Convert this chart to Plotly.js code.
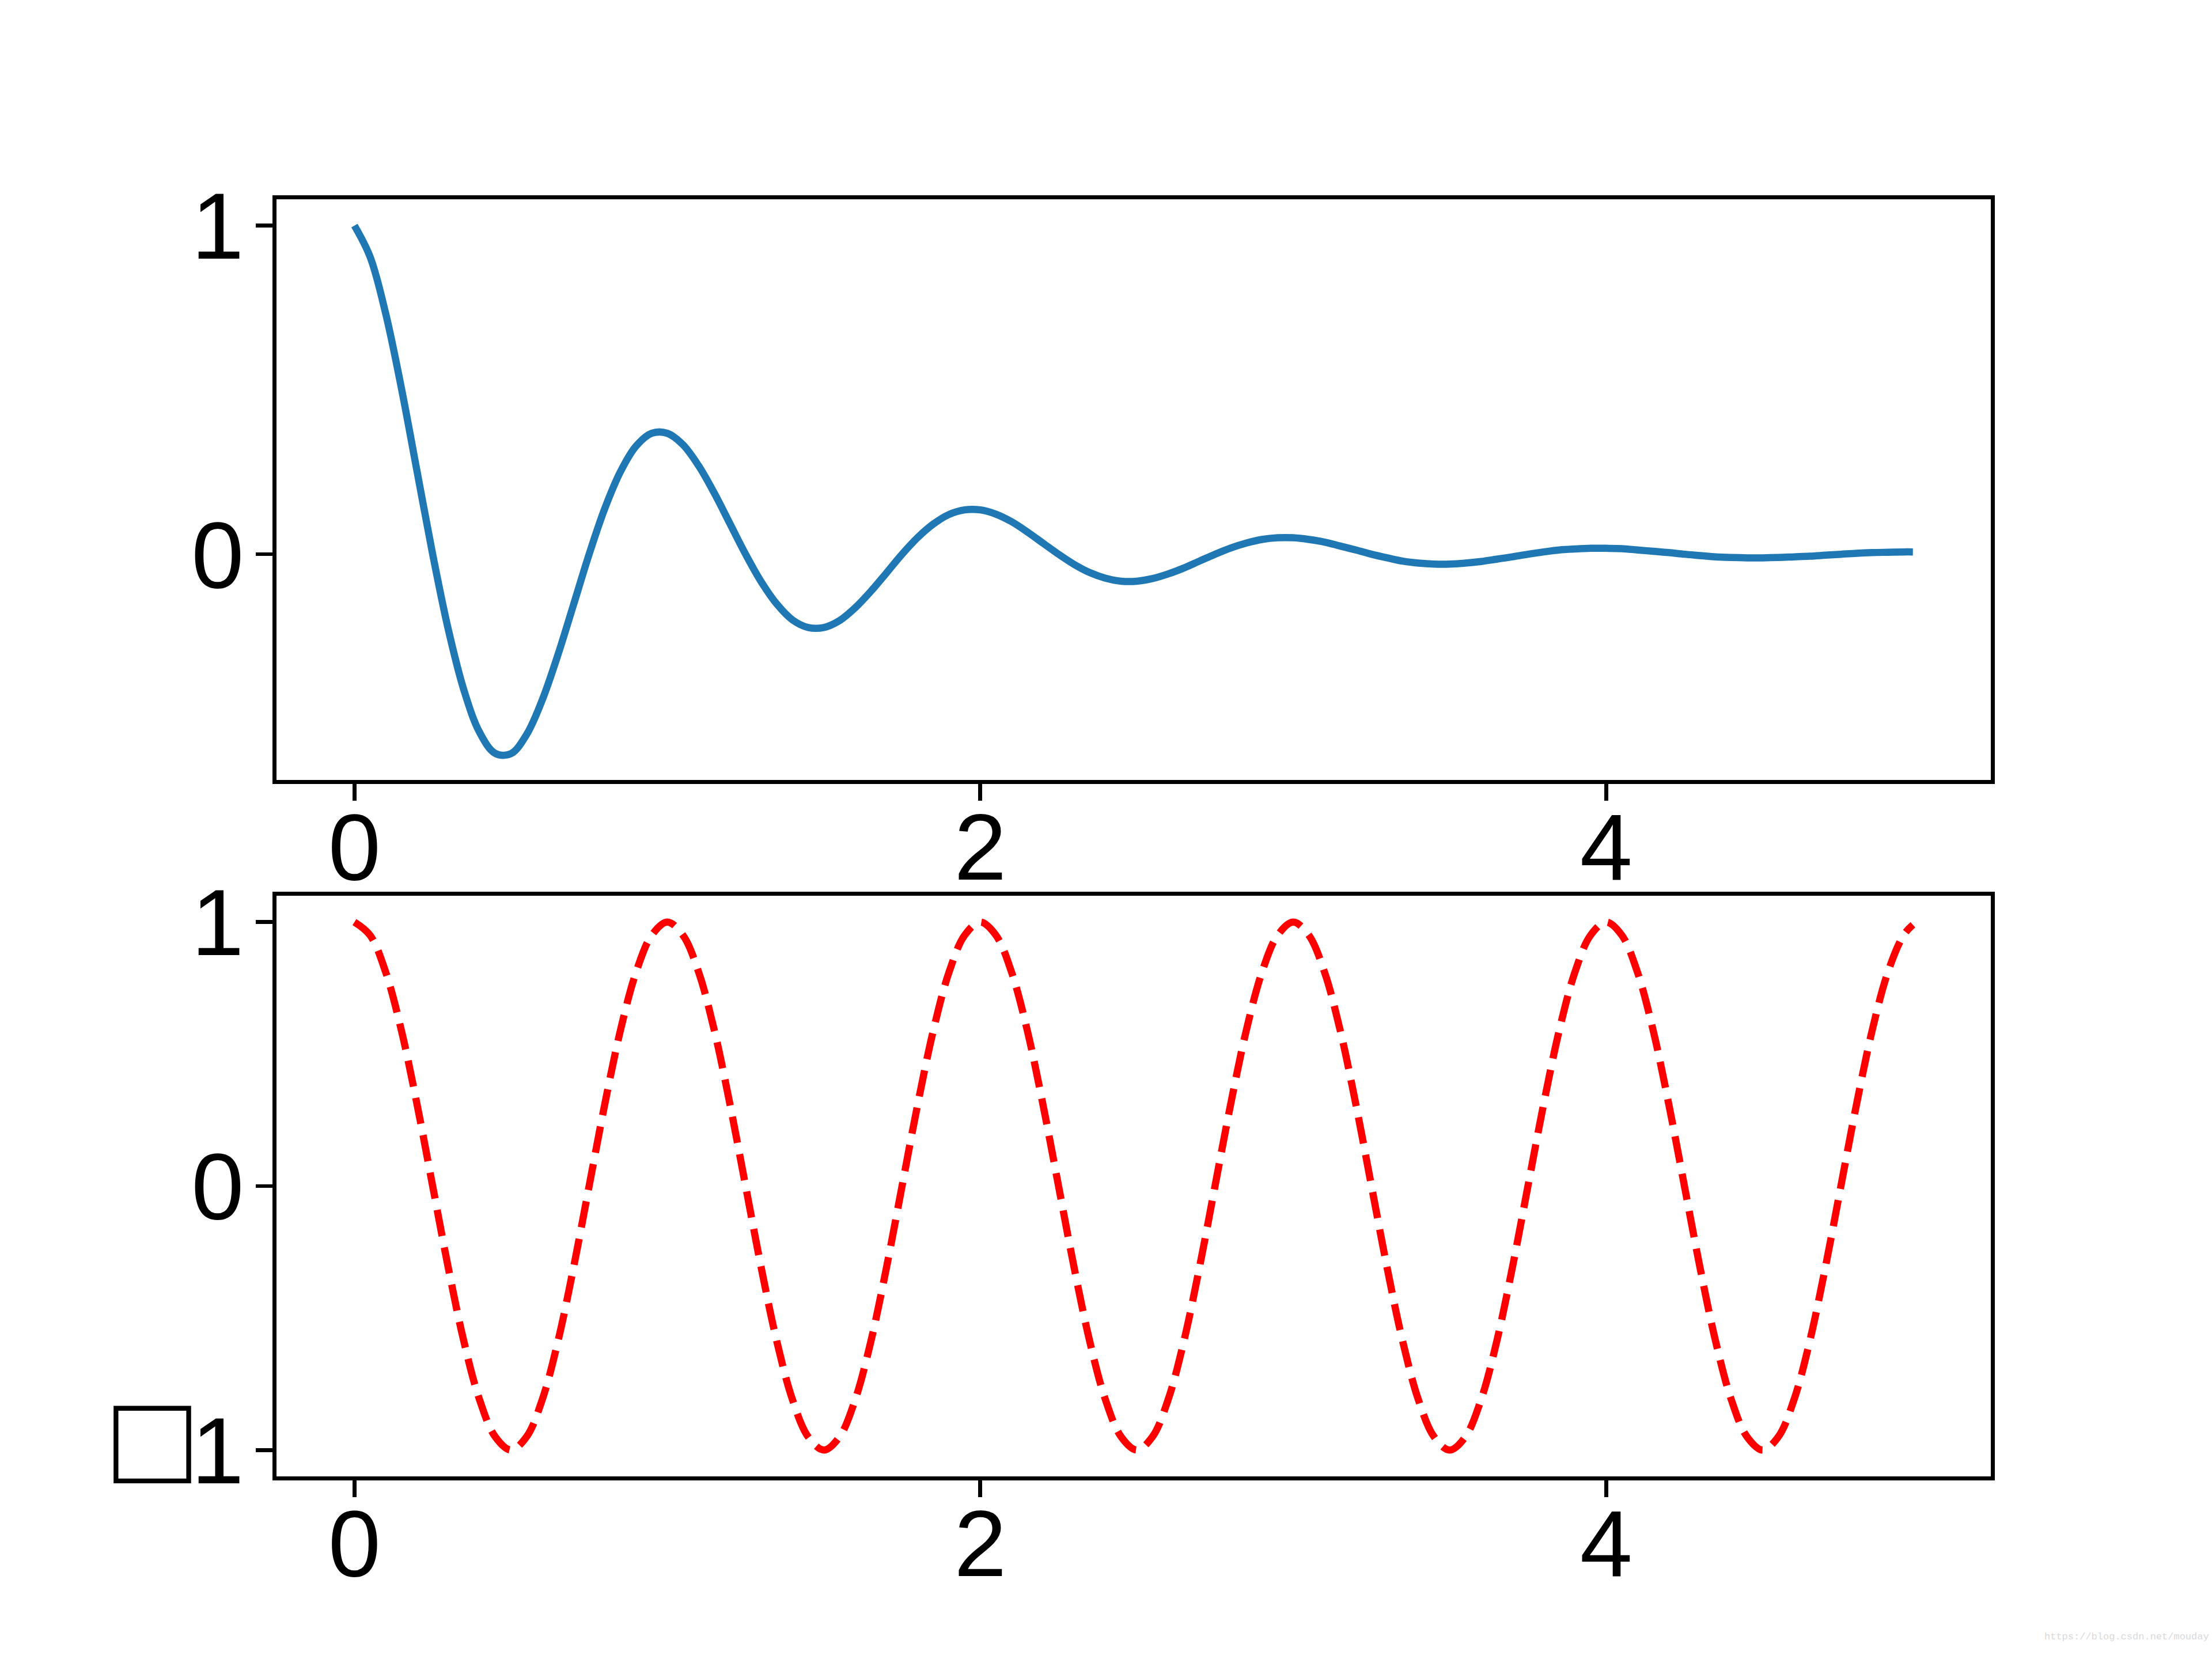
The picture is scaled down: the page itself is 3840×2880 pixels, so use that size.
<!DOCTYPE html>
<html>
<head>
<meta charset="utf-8">
<script src="https://cdn.plot.ly/plotly-3.0.1.min.js"></script>
<style>html,body{margin:0;padding:0;background:#fff;}</style>
</head>
<body>
<div id="chart" style="width:3840px;height:2880px;"></div>
<script>
// time samples (step 0.05 plus last sample)
const t = [0,0.05,0.1,0.15,0.2,0.25,0.3,0.35,0.4,0.45,0.5,0.55,0.6,0.65,0.7,0.75,0.8,0.85,0.9,0.95,
1,1.05,1.1,1.15,1.2,1.25,1.3,1.35,1.4,1.45,1.5,1.55,1.6,1.65,1.7,1.75,1.8,1.85,1.9,1.95,
2,2.05,2.1,2.15,2.2,2.25,2.3,2.35,2.4,2.45,2.5,2.55,2.6,2.65,2.7,2.75,2.8,2.85,2.9,2.95,
3,3.05,3.1,3.15,3.2,3.25,3.3,3.35,3.4,3.45,3.5,3.55,3.6,3.65,3.7,3.75,3.8,3.85,3.9,3.95,
4,4.05,4.1,4.15,4.2,4.25,4.3,4.35,4.4,4.45,4.5,4.55,4.6,4.65,4.7,4.75,4.8,4.85,4.9,4.95,4.98];

// top panel: damped oscillation (blue)
const dampedValues = [1.000,0.905,0.732,0.506,0.253,0.000,-0.229,-0.414,-0.542,-0.606,-0.607,-0.549,-0.444,-0.307,-0.154,0.000,0.139,0.251,0.329,0.368,
0.368,0.333,0.269,0.186,0.093,0.000,-0.084,-0.152,-0.200,-0.223,-0.223,-0.202,-0.163,-0.113,-0.057,0.000,0.051,0.092,0.121,0.135,
0.135,0.122,0.099,0.068,0.034,0.000,-0.031,-0.056,-0.073,-0.082,-0.082,-0.074,-0.060,-0.042,-0.021,0.000,0.019,0.034,0.045,0.050,
0.050,0.045,0.037,0.025,0.013,0.000,-0.011,-0.021,-0.027,-0.030,-0.030,-0.027,-0.022,-0.015,-0.008,0.000,0.007,0.013,0.016,0.018,
0.018,0.017,0.013,0.009,0.005,0.000,-0.004,-0.008,-0.010,-0.011,-0.011,-0.010,-0.008,-0.006,-0.003,0.000,0.003,0.005,0.006,0.007,0.007];

// bottom panel: undamped oscillation (red dashed)
const cosValues = [1,0.95,0.81,0.59,0.31,0,-0.31,-0.59,-0.81,-0.95,-1,-0.95,-0.81,-0.59,-0.31,0,0.31,0.59,0.81,0.95,
1,0.95,0.81,0.59,0.31,0,-0.31,-0.59,-0.81,-0.95,-1,-0.95,-0.81,-0.59,-0.31,0,0.31,0.59,0.81,0.95,
1,0.95,0.81,0.59,0.31,0,-0.31,-0.59,-0.81,-0.95,-1,-0.95,-0.81,-0.59,-0.31,0,0.31,0.59,0.81,0.95,
1,0.95,0.81,0.59,0.31,0,-0.31,-0.59,-0.81,-0.95,-1,-0.95,-0.81,-0.59,-0.31,0,0.31,0.59,0.81,0.95,
1,0.95,0.81,0.59,0.31,0,-0.31,-0.59,-0.81,-0.95,-1,-0.95,-0.81,-0.59,-0.31,0,0.31,0.59,0.81,0.95,0.99];

const xTickVals = [0,2,4];
const xTickText = ['0','2','4'];
const topYTickVals = [0,1];
const topYTickText = ['0','1'];
const bottomYTickVals = [-1,0,1];
const bottomYTickText = ['<span style="font-size:225px">\u25A1</span>1','0','1'];
const watermark = 'https://blog.csdn.net/mouday';

const FONT = 'Liberation Sans, Arial, DejaVu Sans, sans-serif';
const tickFont = {family: FONT, size: 164, color: '#000'};

const traces = [
  {x: t, y: dampedValues, xaxis: 'x', yaxis: 'y', type: 'scatter', mode: 'lines',
   line: {color: '#1f77b4', width: 12.5, shape: 'spline', smoothing: 1}, hoverinfo: 'skip'},
  {x: t, y: cosValues, xaxis: 'x2', yaxis: 'y2', type: 'scatter', mode: 'lines',
   line: {color: '#ff0000', width: 12.5, dash: '46px,20px', shape: 'spline', smoothing: 1}, hoverinfo: 'skip'}
];

function axisCommon() {
  return {
    showline: true, mirror: true, linecolor: '#000', linewidth: 6.7,
    showgrid: false, zeroline: false,
    ticks: 'outside', ticklen: 29, tickwidth: 6.7, tickcolor: '#000',
    tickfont: tickFont, tickmode: 'array', fixedrange: true
  };
}

const layout = {
  width: 3840, height: 2880,
  margin: {l: 480, r: 384, t: 346, b: 317, pad: 0},
  paper_bgcolor: '#fff', plot_bgcolor: '#fff',
  showlegend: false,
  xaxis: Object.assign(axisCommon(), {anchor: 'y', domain: [0,1], range: [-0.249, 5.229],
    tickvals: xTickVals, ticktext: xTickText, ticklabelstandoff: -60}),
  yaxis: Object.assign(axisCommon(), {anchor: 'x', domain: [0.5453, 1], range: [-0.687, 1.080],
    tickvals: topYTickVals, ticktext: topYTickText, ticklabelstandoff: -12}),
  xaxis2: Object.assign(axisCommon(), {anchor: 'y2', domain: [0,1], range: [-0.249, 5.229],
    tickvals: xTickVals, ticktext: xTickText, ticklabelstandoff: -60}),
  yaxis2: Object.assign(axisCommon(), {anchor: 'x2', domain: [0, 0.4547], range: [-1.1, 1.1],
    tickvals: bottomYTickVals, ticktext: bottomYTickText, ticklabelstandoff: -12}),
  annotations: [
    {text: watermark, xref: 'paper', yref: 'paper', x: 1.128, y: -0.131, xanchor: 'right', yanchor: 'bottom',
     showarrow: false, font: {family: 'Liberation Mono, DejaVu Sans Mono, monospace', size: 17, color: '#d9d9d9'}}
  ]
};

Plotly.newPlot('chart', traces, layout, {staticPlot: true, displayModeBar: false});
</script>
</body>
</html>
